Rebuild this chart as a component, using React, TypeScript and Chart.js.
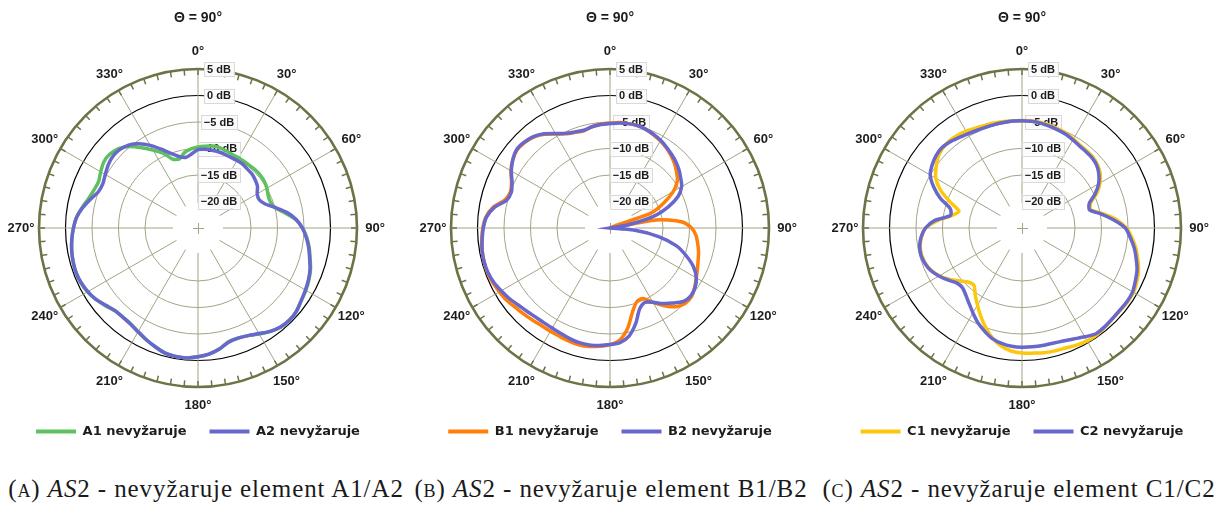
import React, { useEffect, useRef } from 'react';
import { Chart, registerables } from 'chart.js';

Chart.register(...registerables);

// ---------- data ----------
const angleCategories = [
  0, 5, 10, 15, 20, 25, 30, 35, 40, 45, 50, 55, 60, 65, 70, 75, 80, 85,
  90, 95, 100, 105, 110, 115, 120, 125, 130, 135, 140, 145, 150, 155, 160, 165, 170, 175,
  180, 185, 190, 195, 200, 205, 210, 215, 220, 225, 230, 235, 240, 245, 250, 255, 260, 265,
  270, 275, 280, 285, 290, 295, 300, 305, 310, 315, 320, 325, 330, 335, 340, 345, 350, 355,
];
const angleTickLabels = ['0°', '30°', '60°', '90°', '120°', '150°', '180°', '210°', '240°', '270°', '300°', '330°'];
const dbTickValues = [5, 0, -5, -10, -15, -20];
const dbTickLabels = ['5 dB', '0 dB', '−5 dB', '−10 dB', '−15 dB', '−20 dB'];

const a1 = [
  -9.7, -9.5, -9.3, -9.3, -9.5, -9.7, -9.7, -9.7, -9.7, -9.6, -9.6, -9.7, -10.0, -10.4, -10.5, -10.0, -8.4, -6.5,
  -5.3, -4.4, -3.7, -3.1, -2.4, -1.9, -1.5, -1.2, -0.7, -0.5, -0.6, -1.2, -1.9, -2.6, -2.9, -2.8, -1.8, -1.1,
  -0.7, -0.4, -0.4, -0.6, -1.2, -1.8, -2.4, -2.9, -3.0, -2.9, -2.2, -1.5, -0.9, -0.6, -0.5, -0.6, -0.8, -1.1,
  -1.5, -2.0, -2.8, -3.6, -4.1, -4.3, -3.8, -3.3, -3.3, -3.8, -4.9, -6.5, -8.0, -9.4, -11.2, -11.5, -10.5, -10.0,
];
const a2 = [
  -10.2, -10.1, -10.1, -10.1, -10.2, -10.3, -10.3, -10.3, -10.5, -10.6, -10.9, -11.3, -12.1, -12.3, -11.6, -10.0, -8.0, -6.4,
  -5.3, -4.5, -3.8, -3.2, -2.5, -2.0, -1.6, -1.2, -0.7, -0.5, -0.7, -1.2, -2.0, -2.6, -2.9, -2.7, -1.8, -1.1,
  -0.7, -0.4, -0.4, -0.6, -1.2, -1.8, -2.4, -2.85, -3.0, -2.9, -2.3, -1.5, -1.0, -0.65, -0.5, -0.6, -0.8, -1.1,
  -1.5, -2.0, -2.9, -4.0, -5.0, -5.2, -4.8, -4.3, -4.0, -4.1, -4.6, -5.6, -7.0, -8.6, -10.0, -11.0, -11.5, -11.0,
];
const b1 = [
  -5.2, -5.0, -5.0, -5.0, -5.2, -5.6, -6.0, -6.5, -7.1, -7.8, -8.6, -9.5, -11.2, -13.8, -16.8, -25, -16.2, -11.5,
  -9.6, -8.7, -8.2, -7.7, -7.3, -6.8, -6.2, -5.5, -4.9, -4.9, -5.6, -7.1, -8.8, -10.3, -10.2, -8.6, -5.8, -3.8,
  -3.0, -2.6, -2.3, -2.2, -2.3, -2.45, -2.5, -2.5, -2.3, -2.0, -1.7, -1.2, -0.9, -0.6, -0.4, -0.4, -0.5, -0.7,
  -1.0, -1.5, -2.6, -4.5, -5.0, -4.5, -3.4, -2.6, -2.1, -2.2, -2.6, -3.4, -4.5, -5.4, -5.8, -6.0, -5.6, -5.3,
];
const b2 = [
  -5.3, -5.1, -5.0, -5.0, -5.2, -5.5, -5.9, -6.4, -6.9, -7.4, -8.0, -8.7, -9.4, -10.8, -13.3, -16.5, -21.5, -25,
  -25, -20.5, -15.7, -12.0, -9.7, -7.6, -6.2, -5.4, -5.1, -5.4, -6.5, -7.6, -8.8, -9.5, -8.7, -6.3, -4.3, -3.3,
  -3.0, -2.75, -2.6, -2.6, -2.8, -3.05, -3.2, -3.2, -3.1, -2.8, -2.4, -1.8, -1.3, -0.8, -0.5, -0.4, -0.5, -0.8,
  -1.1, -1.6, -2.8, -4.8, -5.2, -4.6, -3.5, -2.6, -2.0, -2.1, -2.5, -3.3, -4.4, -5.3, -5.7, -5.9, -5.6, -5.4,
];
const c1 = [
  -4.7, -4.7, -4.8, -4.9, -5.1, -5.3, -5.6, -5.9, -6.0, -6.1, -6.4, -7.0, -8.0, -9.4, -11.2, -11.6, -9.5, -7.1,
  -5.3, -4.2, -3.2, -2.4, -1.6, -1.1, -0.7, -0.7, -0.8, -0.8, -0.6, -0.4, -0.4, -0.6, -0.9, -1.0, -1.1, -1.3,
  -1.4, -1.7, -2.4, -3.5, -5.0, -6.6, -8.2, -9.6, -10.9, -10.6, -9.5, -8.2, -7.0, -6.1, -5.6, -5.4, -5.5, -6.0,
  -6.8, -9.0, -11.5, -12.7, -10.5, -8.0, -6.2, -5.2, -4.3, -3.8, -3.6, -3.7, -3.9, -4.2, -4.4, -4.5, -4.6, -4.7,
];
const c2 = [
  -4.75, -4.8, -4.9, -5.1, -5.3, -5.5, -5.8, -6.1, -6.2, -6.3, -6.6, -7.3, -8.3, -9.8, -11.5, -11.8, -9.8, -7.6,
  -5.5, -4.5, -3.5, -2.7, -1.9, -1.4, -0.9, -0.8, -0.9, -0.85, -0.7, -0.65, -1.3, -1.9, -2.3, -2.5, -2.5, -2.5,
  -2.5, -2.6, -2.9, -3.4, -4.3, -5.3, -6.5, -7.6, -8.5, -9.1, -8.9, -7.9, -6.9, -6.0, -5.5, -5.25, -5.4, -5.9,
  -6.8, -8.5, -11.3, -11.0, -8.6, -6.6, -5.0, -4.3, -3.8, -3.6, -3.8, -4.2, -4.5, -4.7, -4.8, -4.8, -4.8, -4.75,
];

const titleText = 'Θ = 90°';
const seriesLabels = [
  ['A1 nevyžaruje', 'A2 nevyžaruje'],
  ['B1 nevyžaruje', 'B2 nevyžaruje'],
  ['C1 nevyžaruje', 'C2 nevyžaruje'],
];
const seriesData = [[a1, a2], [b1, b2], [c1, c2]];
const seriesColors = [
  ['#5ec05e', '#6767cd'],
  ['#ff7f0a', '#6767cd'],
  ['#fcc70c', '#6767cd'],
];
const captionTags = ['(a)', '(b)', '(c)'];
const captionTexts = ['2 - nevyžaruje element A1/A2', '2 - nevyžaruje element B1/B2', '2 - nevyžaruje element C1/C2'];

// ---------- style ----------
const RING = '#6f7246';
const GRID = '#a3a485';
const CANVAS_W = 396;
const CANVAS_H = 448;
const panelLefts = [0, 412, 824];
const captionCenters = [206, 611, 1019];

const polarDecor = {
  id: 'polarDecor',
  beforeDatasetsDraw(chart: any) {
    const s = chart.scales.r;
    const ctx = chart.ctx as CanvasRenderingContext2D;
    const cx = s.xCenter;
    const cy = s.yCenter;
    const R = s.drawingArea;
    ctx.save();
    // blank hub
    ctx.fillStyle = '#ffffff';
    ctx.beginPath();
    ctx.arc(cx, cy, 25, 0, Math.PI * 2);
    ctx.fill();
    ctx.strokeStyle = GRID;
    ctx.lineWidth = 1;
    ctx.beginPath();
    ctx.moveTo(cx - 5, cy + 0.5);
    ctx.lineTo(cx + 6, cy + 0.5);
    ctx.moveTo(cx + 0.5, cy - 5);
    ctx.lineTo(cx + 0.5, cy + 6);
    ctx.stroke();
    // outer tick marks
    ctx.strokeStyle = RING;
    ctx.lineWidth = 1.5;
    ctx.beginPath();
    for (let i = 0; i < angleCategories.length; i++) {
      const p1 = s.getPointPosition(i, R);
      const p2 = s.getPointPosition(i, R - 6);
      ctx.moveTo(p1.x, p1.y);
      ctx.lineTo(p2.x, p2.y);
    }
    ctx.stroke();
    // dB labels
    ctx.font = 'bold 11px "Liberation Sans", Arial, sans-serif';
    ctx.textAlign = 'center';
    ctx.textBaseline = 'middle';
    dbTickValues.forEach((v, i) => {
      const y = cy - s.getDistanceFromCenterForValue(v);
      const text = dbTickLabels[i];
      const w = ctx.measureText(text).width;
      const x = cx + 21;
      ctx.fillStyle = 'rgba(251,251,251,0.97)';
      ctx.fillRect(x - w / 2 - 3, y - 7, w + 6, 14);
      ctx.strokeStyle = '#d9d9d9';
      ctx.lineWidth = 1;
      ctx.strokeRect(Math.round(x - w / 2 - 3) + 0.5, Math.round(y - 7) + 0.5, Math.round(w + 6), 14);
      ctx.fillStyle = '#1c1c1c';
      ctx.fillText(text, x, y + 0.5);
    });
    // angle labels
    ctx.font = 'bold 13px "Liberation Sans", Arial, sans-serif';
    ctx.fillStyle = '#1c1c1c';
    angleTickLabels.forEach((t, k) => {
      const idx = k * 6;
      const p = s.getPointPosition(idx, R + 18);
      ctx.fillText(t, p.x, p.y);
    });
    ctx.restore();
  },
};

function PolarPanel({ panel }: { panel: number }) {
  const ref = useRef<HTMLCanvasElement>(null);
  useEffect(() => {
    const labels = angleCategories.map((a) => String(a));
    const datasets = seriesData[panel].map((d, i) => ({
      label: seriesLabels[panel][i],
      data: d,
      borderColor: seriesColors[panel][i],
      backgroundColor: seriesColors[panel][i],
      borderWidth: 3.5,
      pointRadius: 0,
      pointHoverRadius: 0,
      fill: false,
      tension: 0.25,
      order: 2 - i,
    }));
    const chart = new Chart(ref.current as HTMLCanvasElement, {
      type: 'radar',
      data: { labels, datasets },
      options: {
        responsive: false,
        animation: false,
        devicePixelRatio: 1,
        events: [],
        layout: { padding: 0 },
        scales: {
          r: {
            min: -25,
            max: 5,
            startAngle: 0,
            ticks: { display: false, stepSize: 5 },
            pointLabels: { display: false },
            grid: {
              circular: true,
              color: (c: any) => {
                const v = c.tick ? c.tick.value : null;
                if (v === 5) return RING;
                if (v === 0) return '#000000';
                if (v === -25 || v === -20) return 'rgba(0,0,0,0)';
                return GRID;
              },
              lineWidth: (c: any) => {
                const v = c.tick ? c.tick.value : null;
                if (v === 5) return 2.6;
                if (v === 0) return 1.2;
                return 1;
              },
            },
            angleLines: {
              display: true,
              color: GRID,
              lineWidth: (c: any) => (c.index % 6 === 0 ? 1 : 0),
            },
          },
        },
        plugins: {
          title: {
            display: true,
            text: titleText,
            color: '#1c1c1c',
            font: { family: '"Liberation Sans", Arial, sans-serif', size: 14, weight: 'bold' },
            padding: { top: 10, bottom: 42.2 },
          },
          legend: {
            display: true,
            position: 'bottom',
            title: { display: true, text: '', font: { size: 10 }, padding: 1 },
            labels: {
              boxWidth: 40,
              boxHeight: 4,
              padding: 23,
              color: '#1c1c1c',
              font: { family: '"DejaVu Sans", sans-serif', size: 13, weight: 'bold' },
              sort: (a: any, b: any) => a.datasetIndex - b.datasetIndex,
              generateLabels: (ch: any) =>
                (Chart.defaults.plugins.legend.labels as any).generateLabels(ch).map((it: any) => ({ ...it, lineWidth: 0 })),
            },
          },
          tooltip: { enabled: false },
        },
      } as any,
      plugins: [polarDecor],
    });
    return () => chart.destroy();
  }, [panel]);
  return (
    <canvas
      ref={ref}
      width={CANVAS_W}
      height={CANVAS_H}
      style={{ position: 'absolute', left: panelLefts[panel], top: 0, width: CANVAS_W, height: CANVAS_H }}
    />
  );
}

export default function App() {
  return (
    <div
      style={{
        position: 'fixed',
        left: 0,
        top: 0,
        width: 1215,
        height: 506,
        background: '#ffffff',
        overflow: 'hidden',
      }}
    >
      {[0, 1, 2].map((p) => (
        <PolarPanel key={p} panel={p} />
      ))}
      {[0, 1, 2].map((p) => (
        <div
          key={'cap' + p}
          style={{
            position: 'absolute',
            left: captionCenters[p] - 215,
            top: 475,
            width: 430,
            textAlign: 'center',
            whiteSpace: 'nowrap',
            fontFamily: '"Liberation Serif", "DejaVu Serif", serif',
            fontSize: 25,
            letterSpacing: 0.9,
            color: '#1a1a1a',
          }}
        >
          <span style={{ fontVariant: 'small-caps' }}>{captionTags[p]}</span> <i>AS</i>
          {captionTexts[p]}
        </div>
      ))}
    </div>
  );
}
